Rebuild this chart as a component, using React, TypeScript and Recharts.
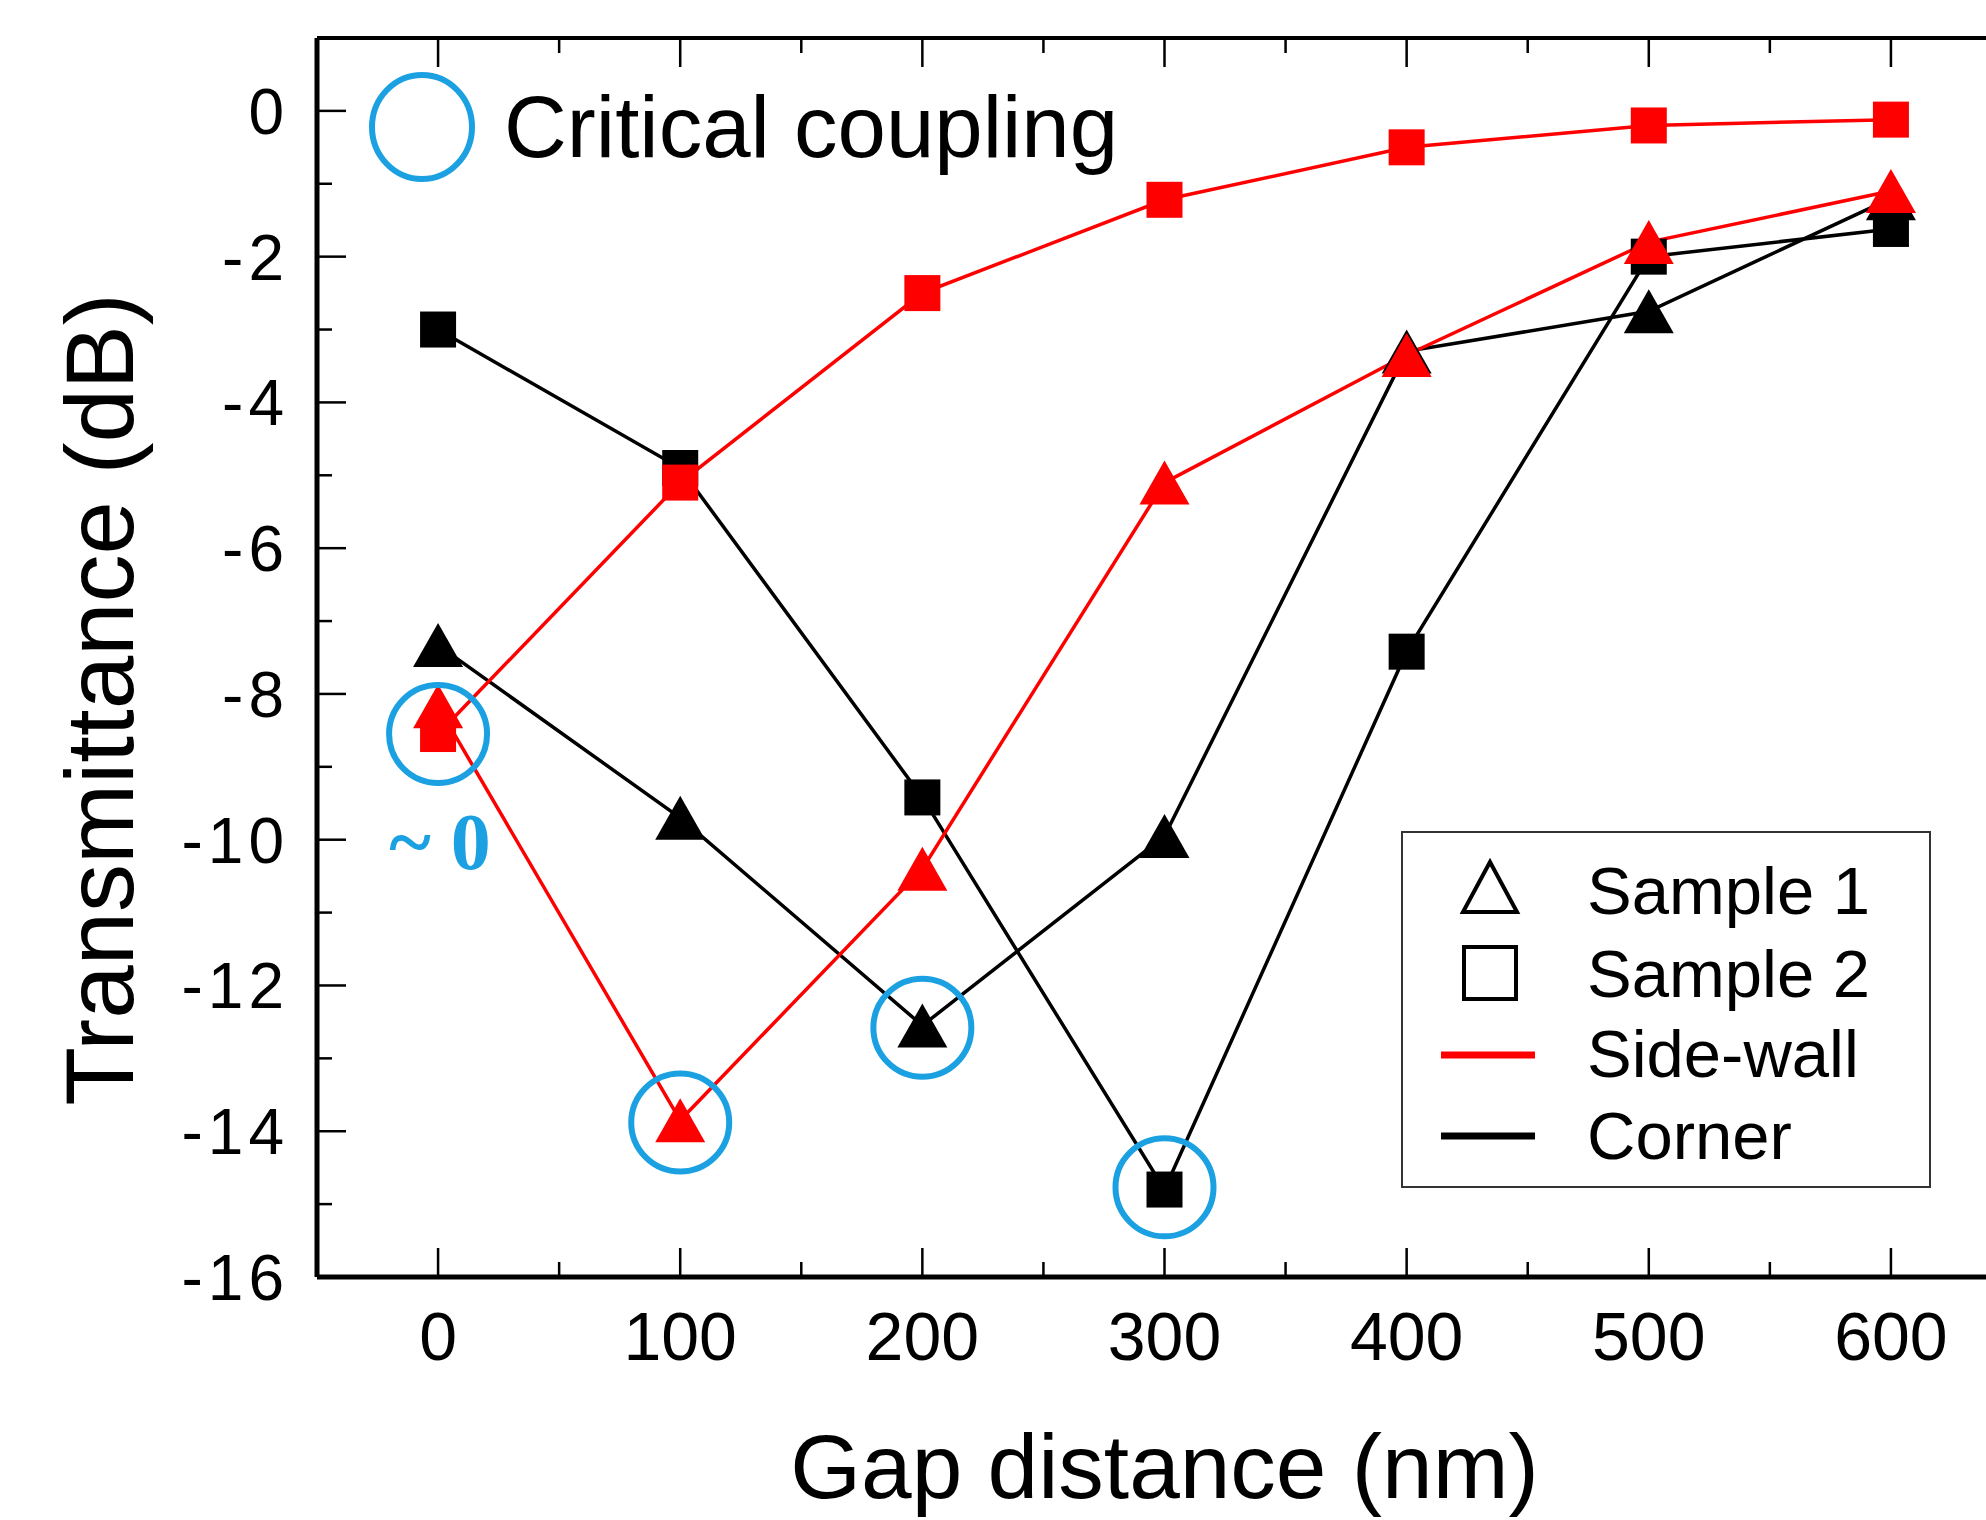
import { ComposedChart, Line, Scatter, XAxis, YAxis, Label } from "recharts";

const gaps = [0, 100, 200, 300, 400, 500, 600];
const sideWallSample1 = [-8.17, -13.85, -10.4, -5.1, -3.35, -1.8, -1.1];
const sideWallSample2 = [-8.55, -5.1, -2.5, -1.22, -0.5, -0.2, -0.12];
const cornerSample1 = [-7.33, -9.7, -12.55, -9.95, -3.3, -2.75, -1.2];
const cornerSample2 = [-3.0, -4.9, -9.42, -14.8, -7.42, -2.0, -1.62];

const criticalGaps = [0, 100, 200, 300];
const criticalValues = [-8.55, -13.88, -12.58, -14.77];

const xTicks = [0, 50, 100, 150, 200, 250, 300, 350, 400, 450, 500, 550, 600];
const yTicks = [-16, -15, -14, -13, -12, -11, -10, -9, -8, -7, -6, -5, -4, -3, -2, -1, 0];

const RED = "#FF0000";
const BLACK = "#000000";
const CYAN = "#1BA1E2";
const FONT = "'Liberation Sans', Arial, sans-serif";

const toPoints = (ys: number[]) => gaps.map((x, i) => ({ x, y: ys[i] }));
const criticalPoints = criticalGaps.map((x, i) => ({ x, y: criticalValues[i] }));

const triangleDot = (color: string) => (props: any) => {
  const { cx, cy, index } = props;
  if (cx == null || cy == null) return <g key={`t-${index}`} />;
  const w = 50;
  const h = 44;
  return (
    <path
      key={`t-${index}`}
      d={`M${cx},${cy - h / 2} L${cx + w / 2},${cy + h / 2} L${cx - w / 2},${cy + h / 2} Z`}
      fill={color}
    />
  );
};

const squareDot = (color: string) => (props: any) => {
  const { cx, cy, index } = props;
  if (cx == null || cy == null) return <g key={`s-${index}`} />;
  const s = 36;
  return <rect key={`s-${index}`} x={cx - s / 2} y={cy - s / 2} width={s} height={s} fill={color} />;
};

const BottomTick = (props: any) => {
  const { x, y, payload } = props;
  const major = payload.value % 100 === 0;
  return (
    <g>
      <line x1={x} x2={x} y1={y} y2={y - (major ? 29 : 15)} stroke="#000" strokeWidth={2.5} />
      {major && (
        <text x={x} y={y + 83} textAnchor="middle" fontSize={68} fontFamily={FONT} fill="#000">
          {payload.value}
        </text>
      )}
    </g>
  );
};

const TopTick = (props: any) => {
  const { x, y, payload } = props;
  const major = payload.value % 100 === 0;
  return <line x1={x} x2={x} y1={y} y2={y + (major ? 29 : 15)} stroke="#000" strokeWidth={2.5} />;
};

const LeftTick = (props: any) => {
  const { x, y, payload } = props;
  const major = payload.value % 2 === 0;
  return (
    <g>
      <line x1={x} x2={x + (major ? 29 : 15)} y1={y} y2={y} stroke="#000" strokeWidth={2.5} />
      {major && (
        <text
          x={x - 28}
          y={y + 23}
          textAnchor="end"
          fontSize={64}
          fontFamily={FONT}
          letterSpacing={5}
          fill="#000"
        >
          {payload.value}
        </text>
      )}
    </g>
  );
};

export default function App() {
  return (
    <div
      style={{
        position: "fixed",
        left: 0,
        top: 0,
        width: 1986,
        height: 1520,
        overflow: "hidden",
        background: "#fff",
      }}
    >
      <ComposedChart width={2100} height={1520} margin={{ top: 36, right: 88, bottom: 0, left: 0 }}>
        <XAxis
          dataKey="x"
          type="number"
          domain={[-50, 650]}
          allowDataOverflow
          ticks={xTicks}
          interval={0}
          tickSize={0}
          tickMargin={0}
          tick={<BottomTick />}
          tickLine={false}
          height={243}
          axisLine={{ stroke: "#000", strokeWidth: 5 }}
        >
          <Label
            content={({ viewBox }: any) => (
              <text
                x={viewBox.x + viewBox.width / 2}
                y={viewBox.y + 221}
                textAnchor="middle"
                fontSize={91}
                fontFamily={FONT}
                fill="#000"
              >
                Gap distance (nm)
              </text>
            )}
          />
        </XAxis>
        <XAxis
          xAxisId="top"
          orientation="top"
          dataKey="x"
          type="number"
          domain={[-50, 650]}
          allowDataOverflow
          ticks={xTicks}
          interval={0}
          tickSize={0}
          tickMargin={0}
          tick={<TopTick />}
          tickLine={false}
          height={2}
          axisLine={{ stroke: "#000", strokeWidth: 4 }}
        />
        <YAxis
          type="number"
          domain={[-16, 1]}
          allowDataOverflow
          ticks={yTicks}
          interval={0}
          tickSize={0}
          tickMargin={0}
          tick={<LeftTick />}
          tickLine={false}
          width={317}
          axisLine={{ stroke: "#000", strokeWidth: 5 }}
        >
          <Label
            content={({ viewBox }: any) => {
              const cx = 133;
              const cy = viewBox.y + viewBox.height / 2 + 42;
              return (
                <text
                  x={cx}
                  y={cy}
                  transform={`rotate(-90 ${cx} ${cy})`}
                  textAnchor="middle"
                  fontSize={96}
                  fontFamily={FONT}
                  fill="#000"
                >
                  Transmittance (dB)
                </text>
              );
            }}
          />
        </YAxis>

        <Line
          data={toPoints(cornerSample2)}
          dataKey="y"
          type="linear"
          stroke={BLACK}
          strokeWidth={3.5}
          dot={squareDot(BLACK)}
          activeDot={false}
          isAnimationActive={false}
        />
        <Line
          data={toPoints(cornerSample1)}
          dataKey="y"
          type="linear"
          stroke={BLACK}
          strokeWidth={3.5}
          dot={triangleDot(BLACK)}
          activeDot={false}
          isAnimationActive={false}
        />
        <Line
          data={toPoints(sideWallSample2)}
          dataKey="y"
          type="linear"
          stroke={RED}
          strokeWidth={3.5}
          dot={squareDot(RED)}
          activeDot={false}
          isAnimationActive={false}
        />
        <Line
          data={toPoints(sideWallSample1)}
          dataKey="y"
          type="linear"
          stroke={RED}
          strokeWidth={3.5}
          dot={triangleDot(RED)}
          activeDot={false}
          isAnimationActive={false}
        />
        <Scatter
          data={criticalPoints}
          dataKey="y"
          isAnimationActive={false}
          shape={(p: any) => (
            <circle cx={p.cx} cy={p.cy} r={49} fill="none" stroke={CYAN} strokeWidth={6} />
          )}
        />
      </ComposedChart>

      {/* critical coupling key */}
      <svg
        style={{ position: "absolute", left: 0, top: 0, pointerEvents: "none" }}
        width={1986}
        height={1520}
      >
        <ellipse cx={422} cy={127} rx={50} ry={52} fill="none" stroke={CYAN} strokeWidth={6} />
        <text x={504} y={157} fontSize={87} fontFamily={FONT} fill="#000">
          Critical coupling
        </text>
        <text
          x={440}
          y={869}
          textAnchor="middle"
          fontSize={80}
          fontWeight="bold"
          fontFamily="'Liberation Serif', 'Times New Roman', serif"
          fill={CYAN}
        >
          ~ 0
        </text>

        {/* legend */}
        <rect x={1402} y={832} width={528} height={355} fill="#fff" stroke="#333" strokeWidth={2} />
        <path d="M1490,862 L1517,912 L1463,912 Z" fill="none" stroke="#000" strokeWidth={4} />
        <rect x={1464} y={947} width={52} height={52} fill="none" stroke="#000" strokeWidth={4} />
        <line x1={1441} x2={1535} y1={1055} y2={1055} stroke={RED} strokeWidth={7} />
        <line x1={1441} x2={1535} y1={1136} y2={1136} stroke={BLACK} strokeWidth={7} />
        <text x={1587} y={914} fontSize={67} fontFamily={FONT} fill="#000">Sample 1</text>
        <text x={1587} y={997} fontSize={67} fontFamily={FONT} fill="#000">Sample 2</text>
        <text x={1587} y={1077} fontSize={67} fontFamily={FONT} fill="#000">Side-wall</text>
        <text x={1587} y={1159} fontSize={67} fontFamily={FONT} fill="#000">Corner</text>
      </svg>
    </div>
  );
}
